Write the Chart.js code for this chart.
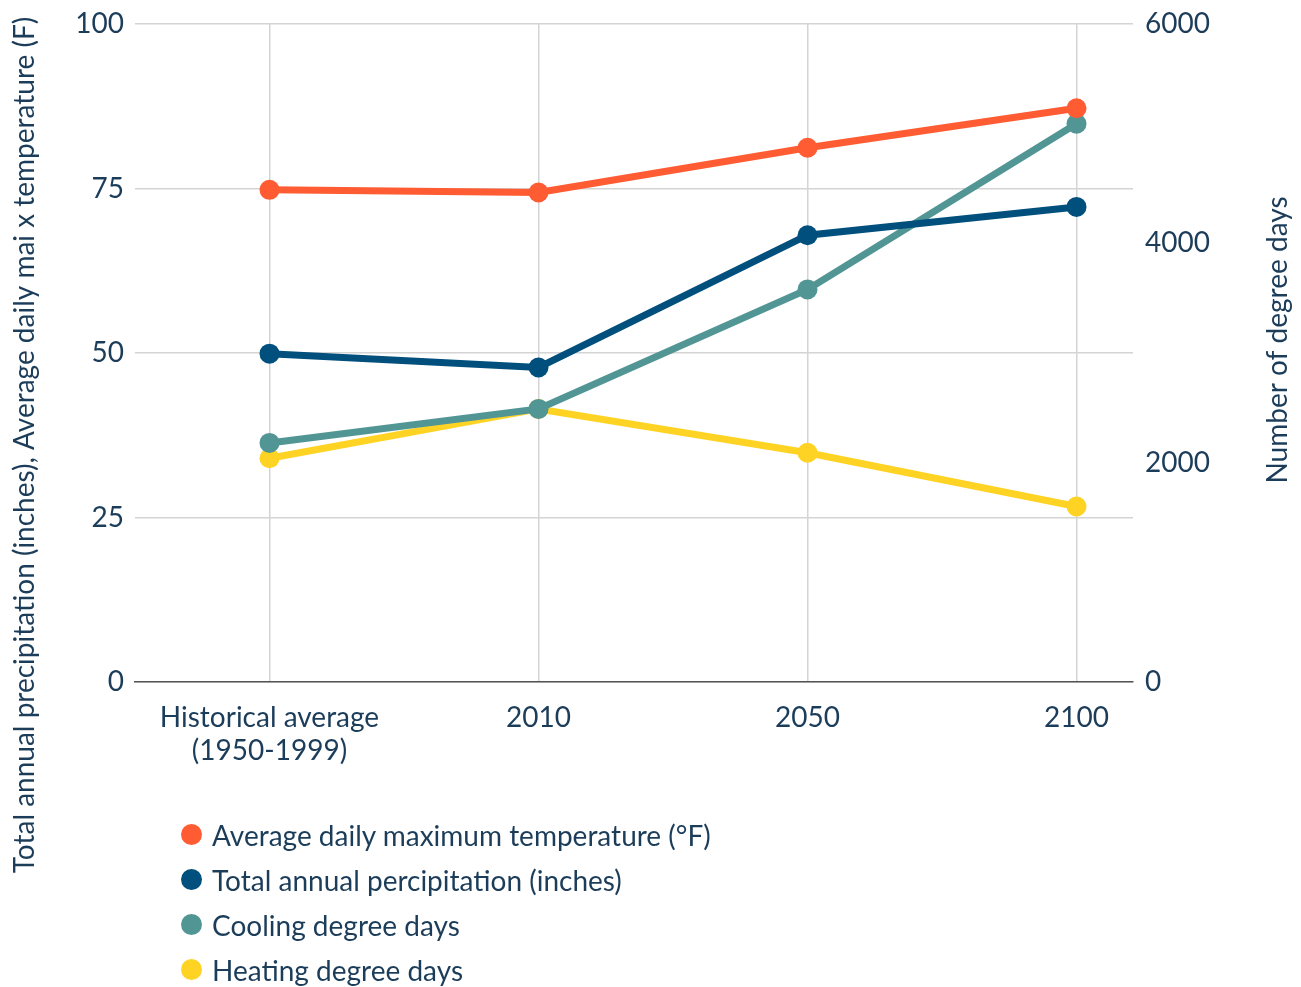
<!DOCTYPE html>
<html>
<head>
<meta charset="utf-8">
<script src="https://cdn.jsdelivr.net/npm/chart.js@4.4.1/dist/chart.umd.min.js"></script>
<style>
  html, body { margin: 0; padding: 0; background: #ffffff; }
  #wrap { position: relative; width: 1301px; height: 987px; }
  #legend { position: absolute; left: 181px; top: 812px; font-family: Lato, "Noto Sans", sans-serif; font-size: 28px; color: #1c3d5a; }
  .item { display: flex; align-items: center; height: 45px; }
  .dot { width: 21px; height: 21px; border-radius: 50%; margin-right: 10px; }
</style>
</head>
<body>
<div id="wrap">
  <canvas id="c" width="1301" height="987"></canvas>
  <div id="legend"></div>
</div>
<script>
// Periods along the horizontal axis
const categories = ['Historical average\n(1950-1999)', '2010', '2050', '2100'];

// Left axis series
const maxTemperature = [74.8, 74.4, 81.2, 87.2];     // °F
const precipitation = [49.9, 47.8, 67.9, 72.2];      // inches

// Right axis series (degree days)
const coolingDegreeDays = [2180, 2490, 3580, 5090];
const heatingDegreeDays = [2040, 2490, 2090, 1600];

const leftTicks = [0, 25, 50, 75, 100];
const rightTicks = [0, 2000, 4000, 6000];

const leftTitle = 'Total annual precipitation (inches), Average daily mai x temperature (F)';
const rightTitle = 'Number of degree days';

const textColor = '#1c3d5a';
const fontFamily = 'Lato, "Noto Sans", sans-serif';
const fontSize = 28;

const toPoints = arr => arr.map((v, i) => ({ x: i, y: v }));

function series(label, values, color, axis) {
  return {
    label,
    data: toPoints(values),
    yAxisID: axis,
    borderColor: color,
    backgroundColor: color,
    borderWidth: 7,
    pointRadius: 10,
    pointHoverRadius: 10,
    pointBorderWidth: 0,
    tension: 0
  };
}

const datasets = [
  series('Average daily maximum temperature (°F)', maxTemperature, '#ff5c33', 'y'),
  series('Total annual percipitation (inches)', precipitation, '#004f7c', 'y'),
  series('Cooling degree days', coolingDegreeDays, '#519594', 'y2'),
  series('Heating degree days', heatingDegreeDays, '#ffd324', 'y2')
];

// Rotated axis titles, both reading bottom to top
function drawVerticalText(ctx, text, x, y) {
  ctx.save();
  ctx.fillStyle = textColor;
  ctx.font = fontSize + 'px ' + fontFamily;
  ctx.textAlign = 'center';
  ctx.textBaseline = 'middle';
  ctx.translate(x, y);
  ctx.rotate(-Math.PI / 2);
  ctx.fillText(text, 0, 0);
  ctx.restore();
}

const axisTitles = {
  id: 'axisTitles',
  afterDraw(chart) {
    drawVerticalText(chart.ctx, leftTitle, 25, 445);
    drawVerticalText(chart.ctx, rightTitle, 1278, 340);
  }
};

// Fixed axis widths, and no extra room reserved for the end tick labels
const fitVertical = width => s => {
  s.width = width;
  s.paddingTop = 0;
  s.paddingBottom = 0;
};

const chart = new Chart(document.getElementById('c'), {
  type: 'line',
  data: { datasets },
  plugins: [axisTitles],
  options: {
    responsive: false,
    animation: false,
    layout: { padding: { top: 24, bottom: 205, left: 0, right: 0 } },
    plugins: { legend: { display: false }, tooltip: { enabled: false } },
    scales: {
      x: {
        type: 'linear',
        min: -0.5,
        max: 3.21,
        afterBuildTicks: s => { s.ticks = categories.map((_, i) => ({ value: i })); },
        afterFit: s => { s.height = 100; s.paddingLeft = 0; s.paddingRight = 0; },
        ticks: {
          color: textColor,
          font: { family: fontFamily, size: fontSize },
          padding: 19,
          maxRotation: 0,
          autoSkip: false,
          callback: v => categories[v] !== undefined ? categories[v].split('\n') : ''
        },
        grid: { color: '#d4d4d4', lineWidth: 1.5, drawTicks: false },
        border: { display: true, color: '#555555', width: 1.5 }
      },
      y: {
        position: 'left',
        min: 0,
        max: 100,
        afterBuildTicks: s => { s.ticks = leftTicks.map(v => ({ value: v })); },
        afterFit: fitVertical(135),
        ticks: { color: textColor, font: { family: fontFamily, size: fontSize }, padding: 11 },
        grid: { color: '#d4d4d4', lineWidth: 1.5, drawTicks: false },
        border: { display: false }
      },
      y2: {
        position: 'right',
        min: 0,
        max: 6000,
        afterBuildTicks: s => { s.ticks = rightTicks.map(v => ({ value: v })); },
        afterFit: fitVertical(168),
        ticks: {
          color: textColor,
          font: { family: fontFamily, size: fontSize },
          padding: 12,
          callback: v => String(v)
        },
        grid: { display: false, drawTicks: false },
        border: { display: false }
      }
    }
  }
});

// Legend built from the chart's own datasets
const legendEl = document.getElementById('legend');
chart.data.datasets.forEach(ds => {
  const row = document.createElement('div');
  row.className = 'item';
  const dot = document.createElement('span');
  dot.className = 'dot';
  dot.style.background = ds.backgroundColor;
  const label = document.createElement('span');
  label.textContent = ds.label;
  row.appendChild(dot);
  row.appendChild(label);
  legendEl.appendChild(row);
});
</script>
</body>
</html>
